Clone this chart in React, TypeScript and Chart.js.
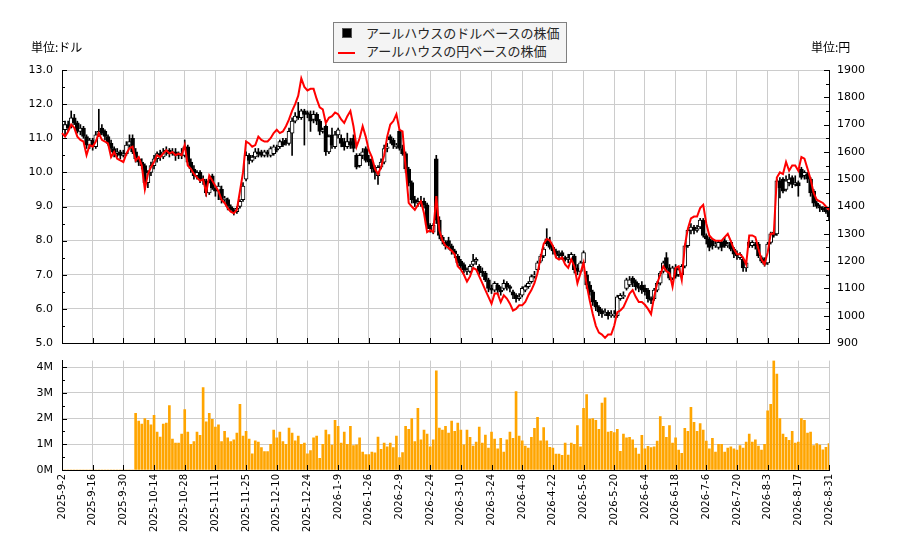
import { useEffect, useRef } from 'react';
import { Chart, registerables } from 'chart.js';

Chart.register(...registerables);
Chart.defaults.font.family = '"DejaVu Sans", sans-serif';
Chart.defaults.color = '#000';

const tickLabels = [
  '2025-9-2', '2025-9-16', '2025-9-30', '2025-10-14', '2025-10-28', '2025-11-11', '2025-11-25',
  '2025-12-10', '2025-12-24', '2026-1-9', '2026-1-26', '2026-2-9', '2026-2-24', '2026-3-10',
  '2026-3-24', '2026-4-8', '2026-4-22', '2026-5-6', '2026-5-20', '2026-6-4', '2026-6-18',
  '2026-7-6', '2026-7-20', '2026-8-3', '2026-8-17', '2026-8-31',
];

// ドル建て 始値・高値・安値・終値 (営業日ごと)
const open = [
  11.4, 11.25, 11.4, 11.35, 11.6, 11.45, 11.2, 11.3, 11.05, 10.8,
  10.95, 10.75, 11.1, 11.3, 11.2, 11.05, 10.85, 10.7, 10.55, 10.6,
  10.5, 10.55, 10.8, 11.0, 10.6, 10.4, 10.3, 10.2, 9.7, 10.0,
  10.2, 10.4, 10.55, 10.45, 10.6, 10.65, 10.55, 10.6, 10.5, 10.55,
  10.5, 10.75, 10.3, 10.1, 9.9, 10.0, 9.8, 9.75, 9.4, 9.9,
  9.55, 9.45, 9.5, 9.2, 9.2, 9.0, 8.9, 8.85, 9.0, 9.2,
  9.8, 10.5, 10.35, 10.45, 10.6, 10.6, 10.5, 10.6, 10.5, 10.55,
  10.7, 10.75, 10.9, 10.95, 10.85, 11.15, 11.5, 11.65, 11.6, 11.8,
  11.75, 11.7, 11.55, 11.7, 11.5, 11.2, 11.35, 10.6, 11.1, 10.75,
  11.1, 11.0, 10.9, 10.75, 10.9, 11.0, 10.5, 10.2, 10.5, 10.7,
  10.4, 10.3, 10.1, 9.9, 10.15, 10.3, 10.7, 11.05, 10.95, 10.75,
  11.2, 10.7, 10.55, 10.1, 9.7, 9.2, 9.1, 9.15, 9.15, 9.05,
  8.45, 8.25, 10.4, 8.6, 8.1, 7.95, 8.0, 7.85, 7.7, 7.55,
  7.4, 7.3, 7.1, 7.1, 7.3, 7.4, 7.25, 7.1, 7.05, 6.85,
  6.6, 6.55, 6.7, 6.55, 6.6, 6.75, 6.65, 6.5, 6.4, 6.3,
  6.4, 6.55, 6.65, 6.8, 6.95, 7.15, 7.4, 7.55, 8.05, 7.95,
  7.8, 7.7, 7.6, 7.65, 7.5, 7.45, 7.45, 7.55, 7.2, 7.1,
  7.35, 7.0, 6.7, 6.5, 6.2, 6.05, 5.95, 5.85, 5.9, 5.8,
  5.8, 5.8, 6.3, 6.35, 6.6, 6.7, 6.9, 6.8, 6.65, 6.7,
  6.6, 6.55, 6.3, 6.3, 6.55, 6.75, 7.1, 7.5, 7.2, 6.9,
  7.2, 7.0, 7.0, 7.25, 7.85, 8.3, 8.4, 8.3, 8.4, 8.6,
  8.15, 8.05, 8.0, 7.85, 7.8, 7.95, 8.0, 7.85, 7.95, 7.75,
  7.6, 7.5, 7.45, 7.2, 7.95, 7.85, 7.9, 7.9, 7.5, 7.45,
  7.35, 7.95, 8.25, 8.2, 9.75, 9.8, 9.5, 9.7, 9.85, 9.65,
  9.7, 10.1, 9.9, 9.95, 9.8, 9.45, 9.1, 9.0, 8.95, 8.9,
  8.85,
];

const close = [
  11.25, 11.4, 11.3, 11.6, 11.45, 11.2, 11.3, 11.05, 10.8, 10.95,
  10.75, 11.1, 11.2, 11.15, 11.05, 10.85, 10.7, 10.55, 10.6, 10.5,
  10.55, 10.8, 10.9, 10.6, 10.4, 10.3, 10.2, 9.7, 10.0, 10.2,
  10.4, 10.55, 10.45, 10.6, 10.65, 10.55, 10.6, 10.5, 10.55, 10.5,
  10.75, 10.3, 10.1, 9.9, 10.0, 9.8, 9.75, 9.4, 9.7, 9.55,
  9.45, 9.6, 9.2, 9.25, 9.0, 8.9, 8.85, 8.95, 9.15, 9.6,
  10.5, 10.35, 10.45, 10.6, 10.55, 10.5, 10.6, 10.55, 10.7, 10.75,
  10.65, 10.9, 10.8, 10.85, 11.2, 11.5, 11.65, 11.6, 11.8, 11.7,
  11.7, 11.5, 11.7, 11.5, 11.2, 11.25, 10.6, 11.05, 10.8, 11.1,
  11.25, 10.85, 10.75, 10.9, 10.8, 10.7, 10.15, 10.5, 10.6, 10.35,
  10.3, 10.1, 10.0, 10.15, 10.3, 10.7, 10.75, 10.95, 10.8, 10.8,
  10.7, 10.55, 10.1, 9.7, 9.2, 9.1, 9.15, 9.1, 9.05, 8.45,
  8.35, 8.45, 8.6, 8.15, 8.0, 7.85, 7.85, 7.7, 7.6, 7.35,
  7.25, 7.15, 7.15, 7.25, 7.4, 7.45, 7.1, 7.05, 6.85, 6.6,
  6.55, 6.75, 6.55, 6.5, 6.75, 6.65, 6.6, 6.4, 6.3, 6.35,
  6.6, 6.65, 6.75, 6.95, 7.0, 7.35, 7.55, 7.75, 7.9, 7.8,
  7.7, 7.6, 7.55, 7.55, 7.45, 7.5, 7.6, 7.15, 7.1, 7.35,
  7.65, 6.7, 6.5, 6.2, 6.05, 5.9, 5.85, 5.9, 5.8, 5.85,
  5.85, 6.35, 6.4, 6.4, 6.85, 6.85, 6.75, 6.65, 6.6, 6.55,
  6.5, 6.3, 6.25, 6.55, 6.75, 7.05, 7.35, 7.2, 6.9, 7.2,
  6.95, 7.15, 7.25, 7.85, 8.3, 8.4, 8.3, 8.35, 8.6, 8.15,
  8.05, 7.8, 7.85, 7.9, 7.95, 7.8, 7.85, 7.9, 7.75, 7.6,
  7.55, 7.6, 7.2, 7.35, 7.85, 7.95, 7.85, 7.55, 7.4, 7.3,
  7.9, 8.2, 8.15, 9.75, 9.55, 9.45, 9.75, 9.8, 9.65, 9.7,
  9.6, 9.85, 10.0, 9.8, 9.4, 9.1, 9.0, 8.95, 8.9, 8.85,
  8.7,
];

const high = [
  11.65, 11.5, 11.5, 11.8, 11.7, 11.5, 11.4, 11.35, 11.1, 11.0,
  11.0, 11.2, 11.85, 11.4, 11.25, 11.1, 10.95, 10.75, 10.7, 10.65,
  10.65, 10.9, 11.1, 11.1, 10.7, 10.45, 10.4, 10.25, 10.05, 10.3,
  10.5, 10.6, 10.65, 10.7, 10.75, 10.7, 10.7, 10.7, 10.6, 10.7,
  10.95, 10.8, 10.4, 10.2, 10.05, 10.05, 9.9, 9.8, 9.8, 9.95,
  9.6, 9.7, 9.6, 9.3, 9.25, 9.05, 8.95, 9.0, 9.2, 9.7,
  10.6, 10.55, 10.5, 10.7, 10.7, 10.65, 10.65, 10.65, 10.75, 10.8,
  10.8, 10.95, 11.0, 11.0, 11.3, 11.6, 11.75, 12.05, 11.85, 11.85,
  11.8, 11.8, 11.8, 11.75, 11.55, 11.3, 11.4, 11.1, 11.3, 11.2,
  11.3, 11.1, 11.0, 11.15, 11.0, 11.1, 10.55, 10.55, 10.7, 10.75,
  10.5, 10.4, 10.2, 10.2, 10.4, 10.8, 10.85, 11.1, 11.0, 10.85,
  11.25, 10.8, 10.6, 10.15, 9.75, 9.3, 9.25, 9.3, 9.25, 9.1,
  8.5, 8.5, 10.5, 8.7, 8.15, 8.0, 8.1, 7.9, 7.75, 7.6,
  7.45, 7.35, 7.2, 7.3, 7.6, 7.5, 7.3, 7.2, 7.1, 6.9,
  6.7, 6.8, 6.75, 6.65, 6.85, 6.8, 6.7, 6.55, 6.45, 6.45,
  6.65, 6.7, 6.8, 7.0, 7.1, 7.4, 7.6, 7.8, 8.35, 8.1,
  7.85, 7.75, 7.7, 7.7, 7.55, 7.6, 7.65, 7.6, 7.3, 7.4,
  7.7, 7.1, 6.8, 6.55, 6.25, 6.1, 6.0, 6.0, 5.95, 5.95,
  5.95, 6.4, 6.45, 6.5, 6.9, 6.95, 6.95, 6.85, 6.75, 6.8,
  6.7, 6.6, 6.35, 6.6, 6.8, 7.1, 7.4, 7.65, 7.3, 7.25,
  7.3, 7.2, 7.3, 7.9, 8.35, 8.5, 8.45, 8.45, 8.65, 8.65,
  8.2, 8.1, 8.05, 8.0, 8.0, 8.0, 8.1, 7.95, 8.0, 7.8,
  7.7, 7.65, 7.5, 7.4, 8.0, 8.0, 7.95, 7.95, 7.55, 7.5,
  7.95, 8.25, 8.3, 9.8, 9.85, 9.85, 9.9, 9.95, 9.9, 9.9,
  9.75, 10.15, 10.05, 10.0, 9.85, 9.5, 9.15, 9.05, 9.0, 9.0,
  8.9,
];

const low = [
  11.2, 11.1, 11.2, 11.3, 11.4, 11.15, 11.1, 11.0, 10.7, 10.7,
  10.65, 10.7, 11.05, 11.1, 10.95, 10.8, 10.6, 10.45, 10.45, 10.4,
  10.45, 10.5, 10.7, 10.55, 10.3, 10.2, 10.1, 9.5, 9.55, 9.9,
  10.1, 10.3, 10.35, 10.4, 10.5, 10.45, 10.5, 10.35, 10.4, 10.4,
  10.45, 10.2, 10.0, 9.8, 9.8, 9.7, 9.65, 9.3, 9.35, 9.5,
  9.3, 9.2, 9.1, 9.1, 8.9, 8.85, 8.75, 8.8, 8.95, 9.15,
  9.75, 10.25, 10.3, 10.4, 10.45, 10.45, 10.45, 10.45, 10.45, 10.5,
  10.6, 10.7, 10.75, 10.8, 10.8, 10.5, 11.45, 11.55, 11.55, 10.8,
  11.6, 11.2, 11.45, 11.4, 11.1, 11.15, 10.5, 10.55, 10.7, 10.7,
  11.0, 10.75, 10.65, 10.7, 10.7, 10.6, 10.1, 10.15, 10.4, 10.3,
  10.2, 10.0, 9.8, 9.65, 10.1, 10.25, 10.6, 10.85, 10.7, 10.7,
  10.65, 10.5, 10.0, 9.6, 9.1, 9.0, 9.0, 9.0, 8.95, 8.35,
  8.25, 8.2, 8.5, 8.05, 7.9, 7.75, 7.75, 7.6, 7.5, 7.25,
  7.15, 7.05, 7.0, 7.05, 7.25, 7.3, 7.0, 6.95, 6.8, 6.5,
  6.45, 6.5, 6.45, 6.4, 6.55, 6.55, 6.5, 6.3, 6.2, 6.25,
  6.35, 6.5, 6.6, 6.75, 6.9, 7.1, 7.35, 7.5, 7.85, 7.75,
  7.6, 7.5, 7.5, 7.45, 7.4, 7.35, 7.4, 7.05, 7.0, 7.05,
  7.3, 6.6, 6.4, 6.1, 5.95, 5.8, 5.75, 5.8, 5.7, 5.75,
  5.75, 5.75, 6.25, 6.3, 6.55, 6.65, 6.65, 6.55, 6.5, 6.45,
  6.4, 6.2, 6.15, 6.25, 6.5, 6.7, 7.05, 7.15, 6.85, 6.85,
  6.9, 6.95, 6.95, 7.2, 7.8, 8.2, 8.2, 8.25, 8.35, 8.1,
  7.9, 7.7, 7.75, 7.8, 7.75, 7.7, 7.8, 7.8, 7.7, 7.5,
  7.45, 7.45, 7.1, 7.1, 7.8, 7.8, 7.75, 7.5, 7.35, 7.25,
  7.3, 7.9, 8.1, 8.15, 9.25, 9.4, 9.45, 9.6, 9.55, 9.6,
  9.3, 9.8, 9.8, 9.7, 9.3, 9.0, 8.95, 8.85, 8.85, 8.8,
  8.6,
];

// 円建て終値
const yenClose = [
  1669, 1656, 1675, 1700, 1688, 1656, 1644, 1638, 1588, 1625,
  1619, 1638, 1669, 1644, 1638, 1631, 1581, 1600, 1575, 1569,
  1563, 1594, 1613, 1619, 1569, 1581, 1550, 1463, 1519, 1544,
  1563, 1588, 1581, 1594, 1606, 1594, 1600, 1588, 1594, 1588,
  1625, 1550, 1538, 1519, 1506, 1494, 1500, 1450, 1513, 1494,
  1475, 1456, 1425, 1413, 1394, 1381, 1375, 1388, 1456, 1525,
  1638, 1631, 1619, 1625, 1656, 1644, 1638, 1638, 1650, 1669,
  1681, 1669, 1675, 1694, 1719, 1750, 1775, 1806, 1869, 1838,
  1825, 1831, 1831, 1794, 1763, 1756, 1706, 1725, 1731, 1744,
  1738, 1719, 1706, 1731, 1750, 1694, 1619, 1650, 1694, 1656,
  1606, 1581, 1538, 1519, 1544, 1588, 1656, 1700, 1713, 1738,
  1681, 1675, 1544, 1413, 1400, 1388, 1406, 1419, 1375, 1306,
  1313, 1306, 1438, 1313, 1275, 1256, 1248, 1238, 1225, 1181,
  1169, 1150, 1125, 1144, 1175, 1169, 1144, 1119, 1094, 1069,
  1044, 1081, 1081, 1050, 1075, 1063, 1044, 1019, 1025, 1038,
  1038, 1050, 1075, 1094, 1119, 1156, 1213, 1263, 1281, 1275,
  1256, 1213, 1206, 1213, 1188, 1175, 1206, 1181, 1119, 1156,
  1194, 1113, 1056, 1006, 963, 938, 931, 919, 931, 931,
  963, 1013, 1019, 1031, 1056, 1081, 1094, 1069, 1050, 1050,
  1040, 1025, 1006, 1069, 1119, 1150, 1181, 1163, 1156, 1106,
  1175, 1181, 1131, 1256, 1319, 1356, 1363, 1363, 1394, 1406,
  1338, 1294, 1281, 1275, 1275, 1275, 1288, 1300, 1273, 1244,
  1225, 1225, 1213, 1188, 1294, 1294, 1288, 1244, 1206, 1188,
  1231, 1300, 1300, 1506, 1525, 1519, 1563, 1531, 1550, 1550,
  1531, 1581, 1575, 1538, 1500, 1450, 1425, 1419, 1413, 1400,
  1388,
];

// 出来高 (百万株)
const volume = [
  0, 0, 0, 0, 0, 0, 0, 0, 0, 0,
  0, 0, 0, 0, 0, 0, 0, 0, 0, 0,
  0, 0, 0, 0, 2.2, 1.9, 1.78, 2.0, 1.93, 1.75,
  2.12, 1.47, 1.28, 1.78, 1.82, 2.5, 1.2, 1.05, 1.05, 1.4,
  2.35, 1.47, 1.0, 1.1, 1.47, 1.35, 3.2, 1.87, 2.2, 1.97,
  1.67, 1.75, 1.1, 1.5, 1.25, 1.1, 1.17, 1.43, 2.55, 1.32,
  1.5, 1.2, 0.63, 1.13, 1.08, 0.87, 0.72, 0.72, 1.0, 1.55,
  1.25, 1.47, 1.1, 1.0, 1.63, 1.43, 1.13, 1.32, 1.0, 1.05,
  0.63, 0.75, 1.25, 1.32, 0.45, 1.0, 1.55, 1.38, 0.97, 1.93,
  1.7, 1.05, 1.47, 1.0, 1.7, 0.95, 0.98, 1.25, 0.7, 0.6,
  0.6, 0.7, 0.67, 1.28, 0.8, 1.05, 0.9, 1.05, 0.87, 1.32,
  0.48, 0.68, 1.7, 1.58, 2.0, 1.1, 2.4, 1.17, 1.55, 1.4,
  0.9, 1.17, 3.85, 1.63, 1.55, 1.7, 1.43, 1.9, 1.5, 1.82,
  1.55, 0.98, 1.55, 1.27, 0.93, 1.08, 1.67, 1.05, 1.36, 0.85,
  1.47, 1.2, 0.82, 1.23, 0.7, 1.17, 1.47, 1.23, 3.05, 1.32,
  1.13, 0.93, 0.85, 1.27, 1.62, 2.05, 1.13, 1.65, 1.13, 0.88,
  0.85, 0.62, 0.62, 0.57, 1.05, 0.58, 1.05, 1.0, 1.73, 0.9,
  2.4, 2.93, 1.98, 2.0, 1.93, 1.58, 2.6, 2.8, 1.47, 1.5,
  1.45, 1.58, 0.73, 1.4, 1.25, 1.27, 1.17, 0.85, 0.62, 1.35,
  0.82, 0.92, 0.87, 0.9, 1.12, 2.08, 1.7, 1.27, 1.73, 1.05,
  1.25, 0.77, 0.65, 1.62, 1.5, 2.43, 1.85, 1.5, 1.8, 1.55,
  1.12, 0.82, 1.23, 0.7, 1.0, 1.0, 0.7, 0.85, 0.9, 0.82,
  0.77, 0.95, 0.85, 1.08, 1.4, 1.08, 1.17, 0.93, 0.77, 1.0,
  2.3, 2.55, 4.25, 3.73, 2.0, 1.4, 1.27, 1.15, 1.5, 1.05,
  1.08, 2.0, 1.93, 1.43, 1.47, 0.95, 1.03, 0.97, 0.78, 0.88,
  1.03,
];

const days = close.map((_, i) => String(i));
const GRID = '#cccccc';
const PLOT_LEFT = 62;
const PLOT_RIGHT_GAP = 71;

// matplotlibの内向き目盛りを描く
type TickSpec = { id: string; side: 'left' | 'right' | 'bottom'; min: number; max: number; minor: number; major: number };
function inwardTicks(specs: TickSpec[]) {
  return {
    id: 'inwardTicks',
    afterDraw(chart: Chart) {
      const { ctx, chartArea: a } = chart;
      ctx.save();
      ctx.strokeStyle = '#000';
      ctx.lineWidth = 1;
      for (const s of specs) {
        const scale = chart.scales[s.id];
        for (let v = s.min; v <= s.max + 1e-9; v += s.minor) {
          const r = v / s.major;
          const len = Math.abs(r - Math.round(r)) < 1e-6 ? 5 : 3;
          const p = Math.round(scale.getPixelForValue(v)) + 0.5;
          ctx.beginPath();
          if (s.side === 'left') {
            ctx.moveTo(a.left, p);
            ctx.lineTo(a.left + len, p);
          } else if (s.side === 'right') {
            ctx.moveTo(a.right, p);
            ctx.lineTo(a.right - len, p);
          } else {
            ctx.moveTo(p, a.bottom);
            ctx.lineTo(p, a.bottom - len);
          }
          ctx.stroke();
        }
      }
      ctx.restore();
    },
  };
}

const xGrid = {
  offset: false,
  drawTicks: false,
  color: (c: any) => (c.index % 10 === 0 ? GRID : 'rgba(0,0,0,0)'),
};

export default function App() {
  const priceRef = useRef<HTMLCanvasElement>(null);
  const volRef = useRef<HTMLCanvasElement>(null);

  useEffect(() => {
    if (!priceRef.current || !volRef.current) return;

    const priceChart = new Chart(priceRef.current, {
      type: 'bar',
      data: {
        labels: days,
        datasets: [
          {
            type: 'line',
            label: 'yen',
            data: yenClose,
            yAxisID: 'y2',
            borderColor: '#ff0000',
            borderWidth: 2,
            pointRadius: 0,
            tension: 0,
            order: 1,
          },
          {
            type: 'bar',
            label: 'body',
            data: open.map((o, i) => [o, close[i]]),
            yAxisID: 'y',
            backgroundColor: (c: any) => (close[c.dataIndex] >= open[c.dataIndex] ? '#ffffff' : '#000000'),
            borderColor: '#000',
            borderWidth: 1,
            borderSkipped: false,
            barThickness: 4,
            grouped: false,
            order: 2,
          },
          {
            type: 'bar',
            label: 'wick',
            data: low.map((l, i) => [l, high[i]]),
            yAxisID: 'y',
            backgroundColor: '#000',
            barThickness: 1,
            grouped: false,
            order: 3,
          },
        ] as any,
      },
      options: {
        animation: false,
        responsive: false,
        layout: { padding: { top: 70, left: 0, right: 0, bottom: 0 } },
        plugins: { legend: { display: false }, tooltip: { enabled: false } },
        scales: {
          x: {
            type: 'category',
            offset: false,
            grid: xGrid,
            border: { color: '#000' },
            ticks: { display: false, autoSkip: false },
            afterFit: (s: any) => { s.height = 17; },
          },
          y: {
            position: 'left',
            min: 5,
            max: 13,
            ticks: { stepSize: 1, padding: 9, font: { size: 11 }, callback: (v: any) => Number(v).toFixed(1) },
            grid: { color: GRID, drawTicks: false },
            border: { color: '#000' },
            afterFit: (s: any) => { s.width = PLOT_LEFT; },
          },
          y2: {
            position: 'right',
            min: 900,
            max: 1900,
            ticks: { stepSize: 100, padding: 8, font: { size: 11 }, callback: (v: any) => String(v) },
            grid: { drawOnChartArea: false, drawTicks: false },
            border: { color: '#000' },
            afterFit: (s: any) => { s.width = PLOT_RIGHT_GAP; },
          },
        },
      } as any,
      plugins: [
        inwardTicks([
          { id: 'y', side: 'left', min: 5, max: 13, minor: 0.5, major: 1 },
          { id: 'y2', side: 'right', min: 900, max: 1900, minor: 50, major: 100 },
          { id: 'x', side: 'bottom', min: 0, max: 250, minor: 10, major: 10 },
        ]),
      ],
    });

    const volChart = new Chart(volRef.current, {
      type: 'bar',
      data: {
        labels: days,
        datasets: [
          {
            label: 'volume',
            data: volume,
            backgroundColor: '#ffa500',
            barThickness: 2,
          },
        ],
      },
      options: {
        animation: false,
        responsive: false,
        layout: { padding: { top: 15, left: 0, right: PLOT_RIGHT_GAP, bottom: 0 } },
        plugins: { legend: { display: false }, tooltip: { enabled: false } },
        scales: {
          x: {
            type: 'category',
            offset: false,
            grid: xGrid,
            border: { color: '#000' },
            ticks: {
              autoSkip: false,
              minRotation: 90,
              maxRotation: 90,
              padding: 4,
              font: { size: 10 },
              callback: (_v: any, i: number) => (i % 10 === 0 ? tickLabels[i / 10] : ''),
            },
            afterFit: (s: any) => { s.height = 80; },
          },
          y: {
            min: 0,
            max: Math.max(...volume),
            ticks: { stepSize: 1, includeBounds: false, padding: 9, font: { size: 11 }, callback: (v: any) => v + 'M' },
            grid: { color: GRID, drawTicks: false },
            border: { color: '#000' },
            afterFit: (s: any) => { s.width = PLOT_LEFT; },
          },
        },
      } as any,
      plugins: [
        inwardTicks([
          { id: 'y', side: 'left', min: 0, max: 4, minor: 0.5, major: 1 },
          { id: 'x', side: 'bottom', min: 0, max: 250, minor: 10, major: 10 },
        ]),
      ],
    });

    return () => {
      priceChart.destroy();
      volChart.destroy();
    };
  }, []);

  const jp = '"Noto Sans CJK JP", "DejaVu Sans", sans-serif';

  return (
    <div style={{ position: 'absolute', left: 0, top: 0, width: 900, height: 550, background: '#fff', fontFamily: jp }}>
      <canvas ref={priceRef} width={900} height={360} style={{ position: 'absolute', left: 0, top: 0 }} />
      <canvas ref={volRef} width={900} height={205} style={{ position: 'absolute', left: 0, top: 345 }} />

      <div style={{ position: 'absolute', left: 31, top: 40, fontSize: 12, lineHeight: '14px', color: '#000' }}>単位:ドル</div>
      <div style={{ position: 'absolute', left: 811, top: 40, fontSize: 12, lineHeight: '14px', color: '#000' }}>単位:円</div>

      <div
        style={{
          position: 'absolute', left: 333, top: 22, width: 234, height: 41, boxSizing: 'border-box',
          border: '1px solid #808080', background: '#f4f4f4', color: '#262626', fontSize: 13, lineHeight: '16px',
        }}
      >
        <div style={{ position: 'absolute', left: 8, top: 5, width: 10, height: 10, background: '#000', border: '1px solid #555', boxSizing: 'border-box' }} />
        <div style={{ position: 'absolute', left: 32, top: 2, whiteSpace: 'nowrap' }}>アールハウスのドルベースの株価</div>
        <div style={{ position: 'absolute', left: 4, top: 29, width: 17, height: 2, background: '#ff0000' }} />
        <div style={{ position: 'absolute', left: 32, top: 20, whiteSpace: 'nowrap' }}>アールハウスの円ベースの株価</div>
      </div>
    </div>
  );
}
